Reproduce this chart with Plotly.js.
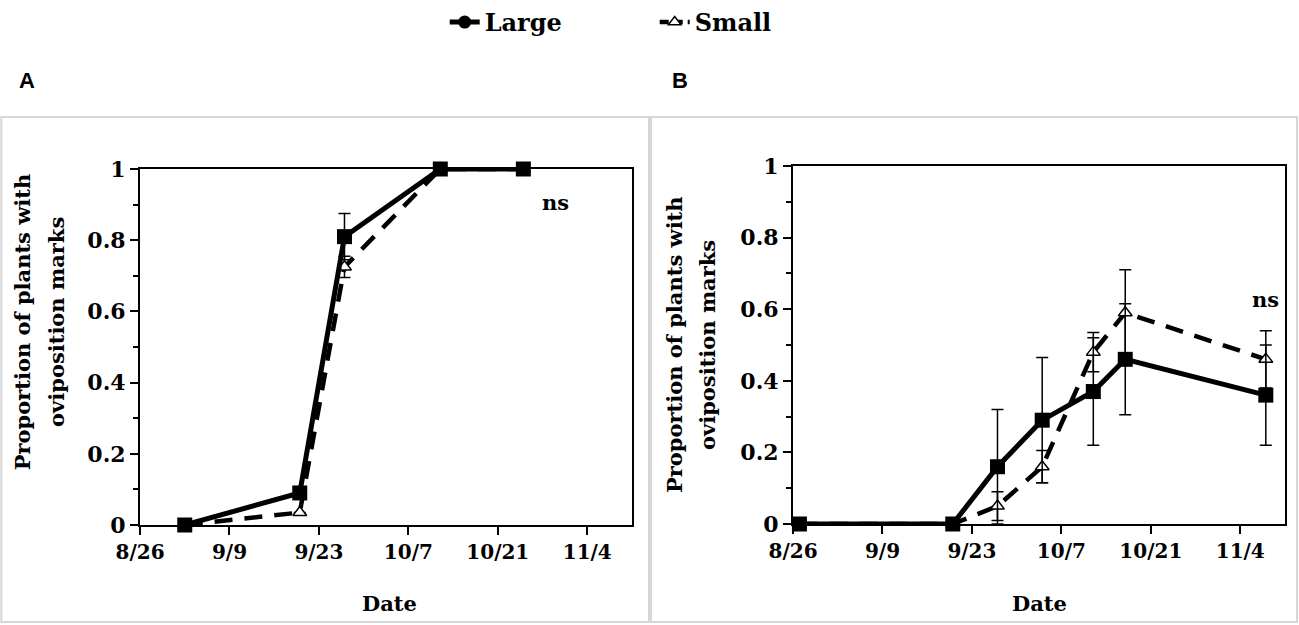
<!DOCTYPE html>
<html>
<head>
<meta charset="utf-8">
<script src="https://cdn.plot.ly/plotly-3.0.1.min.js"></script>
<style>
  body { margin: 0; background: #fff; }
  #chart { width: 1299px; height: 625px; }
</style>
</head>
<body>
<div id="chart"></div>
<script>
// panel A
const datesA = ['2019-09-02', '2019-09-20', '2019-09-27', '2019-10-12', '2019-10-25'];
const largeA = [0, 0.09, 0.81, 1, 1];
const largeErrA = [0, 0, 0.065, 0, 0];
const smallA = [0, 0.035, 0.725, 1, 1];
const smallErrA = [0, 0, 0.03, 0, 0];

// panel B
const datesB = ['2019-08-27', '2019-09-20', '2019-09-27', '2019-10-04', '2019-10-12', '2019-10-17', '2019-11-08'];
const largeB = [0, 0, 0.16, 0.29, 0.37, 0.46, 0.36];
const largeErrB = [0, 0, 0.16, 0.175, 0.15, 0.155, 0.14];
const smallB = [0, 0, 0.05, 0.16, 0.48, 0.59, 0.46];
const smallErrB = [0, 0, 0.04, 0.045, 0.055, 0.12, 0.08];

const tickDates = ['2019-08-26', '2019-09-09', '2019-09-23', '2019-10-07', '2019-10-21', '2019-11-04'];
const tickLabels = ['8/26', '9/9', '9/23', '10/7', '10/21', '11/4'];
const yTitle = ['Proportion of plants with', 'oviposition marks'];

const serif = 'DejaVu Serif';

function smallTrace(x, y, err, xa, ya) {
    return {
        x: x, y: y, xaxis: xa, yaxis: ya, name: 'Small',
        type: 'scatter', mode: 'lines+markers', showlegend: false, cliponaxis: false,
        line: { color: 'black', width: 4.5, dash: '18px,12px' },
        marker: { symbol: 'triangle-up', size: 12, color: 'white', line: { color: 'black', width: 1.5 } },
        error_y: { type: 'data', array: err, visible: true, color: 'black', thickness: 1.5, width: 6 }
    };
}

function largeTrace(x, y, err, xa, ya) {
    return {
        x: x, y: y, xaxis: xa, yaxis: ya, name: 'Large',
        type: 'scatter', mode: 'lines+markers', showlegend: false, cliponaxis: false,
        line: { color: 'black', width: 5 },
        marker: { symbol: 'square', size: 15, color: 'black' },
        error_y: { type: 'data', array: err, visible: true, color: 'black', thickness: 1.5, width: 6 }
    };
}

var data = [
    smallTrace(datesA, smallA, smallErrA, 'x', 'y'),
    largeTrace(datesA, largeA, largeErrA, 'x', 'y'),
    smallTrace(datesB, smallB, smallErrB, 'x2', 'y2'),
    largeTrace(datesB, largeB, largeErrB, 'x2', 'y2'),
    // legend keys (no points of their own)
    {
        x: [null], y: [null], type: 'scatter', mode: 'lines+markers', name: 'Large', showlegend: true,
        line: { color: 'black', width: 5 },
        marker: { symbol: 'circle', size: 13, color: 'black' }
    },
    {
        x: [null], y: [null], type: 'scatter', mode: 'lines+markers', name: 'Small', showlegend: true,
        line: { color: 'black', width: 4.5, dash: '9px,5px' },
        marker: { symbol: 'triangle-up', size: 11, color: 'white', line: { color: 'black', width: 1.5 } }
    }
];

function xAxis(domain, anchor) {
    return {
        type: 'date', domain: domain, anchor: anchor,
        range: ['2019-08-26', '2019-11-11'],
        tickvals: tickDates, ticktext: tickLabels,
        ticks: 'outside', ticklen: 8, tickwidth: 2, tickcolor: 'black',
        showline: true, linewidth: 2, linecolor: 'black', mirror: true,
        showgrid: false, zeroline: false,
        tickfont: { family: serif, size: 20, color: 'black', weight: 'bold' }
    };
}

function yAxis(domain, anchor) {
    return {
        domain: domain, anchor: anchor, range: [0, 1], dtick: 0.2,
        ticks: 'outside', ticklen: 8, tickwidth: 2, tickcolor: 'black',
        minor: { dtick: 0.1, ticks: 'outside', ticklen: 5, tickwidth: 2, tickcolor: 'black' },
        showline: true, linewidth: 2, linecolor: 'black', mirror: true,
        showgrid: false, zeroline: false,
        tickfont: { family: serif, size: 22, color: 'black', weight: 'bold' }
    };
}

const titleFont = { family: serif, size: 21, color: 'black', weight: 'bold' };

function note(text, x, y, extra) {
    return Object.assign({
        text: text, xref: 'paper', yref: 'paper', x: x, y: y,
        xanchor: 'center', yanchor: 'middle', showarrow: false, font: titleFont
    }, extra || {});
}

const letterFont = { family: 'Liberation Sans', size: 22, color: 'black', weight: 'bold' };

var layout = {
    width: 1299, height: 625,
    margin: { l: 0, r: 0, t: 0, b: 0 },
    paper_bgcolor: 'white', plot_bgcolor: 'white',
    xaxis: xAxis([0.1078, 0.4865], 'y'),
    yaxis: yAxis([0.16, 0.7296], 'x'),
    xaxis2: xAxis([0.6105, 0.9892], 'y2'),
    yaxis2: yAxis([0.1616, 0.7344], 'x2'),
    showlegend: true,
    legend: {
        orientation: 'h', x: 0.504, xanchor: 'center', y: 1.0, yanchor: 'top',
        entrywidth: 165,
        font: { family: serif, size: 24, color: 'black', weight: 'bold' },
        bgcolor: 'rgba(0,0,0,0)'
    },
    shapes: [
        { type: 'rect', xref: 'paper', yref: 'paper', x0: 0.001, x1: 0.4996, y0: 0.005, y1: 0.8128,
          line: { color: '#d6d6d6', width: 2 } },
        { type: 'rect', xref: 'paper', yref: 'paper', x0: 0.5012, x1: 0.9985, y0: 0.005, y1: 0.8128,
          line: { color: '#d6d6d6', width: 2 } }
    ],
    annotations: [
        note('A', 0.0208, 0.872, { font: letterFont }),
        note('B', 0.5235, 0.872, { font: letterFont }),
        note('ns', '2019-10-30', 0.905, { xref: 'x', yref: 'y' }),
        note('ns', '2019-11-08', 0.626, { xref: 'x2', yref: 'y2' }),
        note('Date', 0.3002, 0.034),
        note('Date', 0.8006, 0.034),
        note(yTitle[0], 0.0172, 0.4848, { textangle: -90 }),
        note(yTitle[1], 0.0431, 0.4848, { textangle: -90 }),
        note(yTitle[0], 0.5189, 0.448, { textangle: -90 }),
        note(yTitle[1], 0.5443, 0.448, { textangle: -90 })
    ]
};

Plotly.newPlot('chart', data, layout, { displayModeBar: false, staticPlot: true });
</script>
</body>
</html>
